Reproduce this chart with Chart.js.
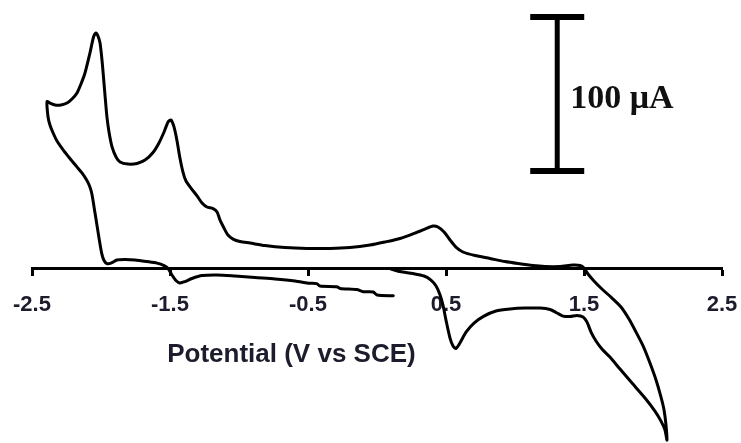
<!DOCTYPE html>
<html>
<head>
<meta charset="utf-8">
<script src="https://cdn.jsdelivr.net/npm/chart.js@4.4.0/dist/chart.umd.min.js"></script>
<style>
  body { margin: 0; background: #fff; }
  #wrap { width: 741px; height: 443px; }
</style>
</head>
<body>
<div id="wrap"><canvas id="chart"></canvas></div>
<script>
// potential (V vs SCE) and current (uA), one continuous trace
const potential = [
  0.101, 0.167, 0.261, 0.341, 0.391, 0.428, 0.457, 0.478, 0.500, 0.529, 0.551, 0.572, 0.601, 0.645, 0.703,
  0.775, 0.862, 0.964, 1.072, 1.181, 1.254, 1.304, 1.348, 1.399, 1.449, 1.493, 1.522, 1.551, 1.587, 1.630,
  1.688, 1.761, 1.848, 1.942, 2.014, 2.058, 2.087, 2.101,
  2.094, 2.080, 2.058, 2.022, 1.978, 1.928, 1.877, 1.826, 1.768, 1.703, 1.630, 1.572, 1.529, 1.500, 1.471,
  1.420, 1.326, 1.217, 1.130, 1.022, 0.928, 0.819, 0.710, 0.623, 0.572, 0.529, 0.486, 0.442, 0.406, 0.348,
  0.275, 0.167, 0.058, -0.051, -0.196, -0.341, -0.507, -0.667, -0.812, -0.920, -0.993, -1.043, -1.080, -1.109,
  -1.138, -1.159, -1.188, -1.232, -1.268, -1.304, -1.348, -1.384, -1.406, -1.428, -1.449, -1.471, -1.493, -1.514,
  -1.543, -1.580, -1.623, -1.681, -1.739, -1.804, -1.862, -1.891, -1.920, -1.942, -1.957, -1.971, -1.982, -1.993,
  -2.007, -2.022, -2.036, -2.054, -2.080, -2.116, -2.145, -2.174, -2.210, -2.246, -2.290, -2.333, -2.370, -2.391,
  -2.384, -2.370, -2.346, -2.319, -2.273, -2.225, -2.176, -2.138, -2.104, -2.083, -2.067, -2.043, -2.020, -1.995,
  -1.978, -1.957, -1.928, -1.884, -1.826, -1.754, -1.667, -1.594, -1.543, -1.514, -1.486, -1.457, -1.428, -1.391,
  -1.341, -1.268, -1.159, -1.029, -0.884, -0.739, -0.594, -0.507, -0.486, -0.437, -0.413, -0.292, -0.268, -0.147,
  -0.099, -0.027, 0.000, 0.118
];
const current = [
  -0.6, -2.3, -3.6, -5.2, -7.8, -11.7, -17.5, -24.0, -33.8, -45.5, -50.6, -52.3, -48.7, -41.6, -35.7,
  -31.2, -27.9, -26.6, -26.0, -26.0, -26.9, -29.2, -31.2, -31.5, -30.8, -31.8, -35.1, -41.6, -47.4, -52.6,
  -57.8, -65.6, -74.7, -84.4, -92.9, -99.4, -105.2, -111.7,
  -101.9, -92.2, -83.8, -72.7, -61.7, -50.6, -41.6, -33.1, -25.3, -19.5, -13.6, -8.4, -3.9, 0, 1.6,
  1.9, 1.0, 1.0, 1.6, 2.9, 4.2, 6.2, 8.1, 10.4, 13.6, 18.2, 23.4, 26.6, 27.3, 25.3,
  22.7, 19.2, 16.9, 14.9, 13.3, 12.7, 12.7, 13.3, 14.6, 16.2, 17.2, 18.8, 21.4, 26.0,
  31.2, 36.4, 38.6, 39.6, 42.2, 46.8, 51.9, 56.5, 62.3, 71.4, 82.5, 91.6, 96.1, 94.8,
  88.3, 81.2, 75.0, 70.1, 67.9, 67.5, 68.8, 72.1, 78.6, 88.3, 98.1, 112.3, 124.0, 135.1,
  146.1, 150.6, 152.6, 150.0, 139.6, 126.6, 119.5, 113.6, 109.7, 107.1, 105.8, 105.8, 107.1, 108.1,
  98.2, 92.9, 87.5, 82.5, 76.6, 71.1, 65.8, 61.7, 57.1, 53.2, 48.5, 35.5, 22.5, 9.5,
  4.9, 2.9, 3.2, 5.2, 5.5, 5.2, 4.2, 3.2, 1.6, -0.3, -4.5, -8.1, -9.7, -8.8,
  -6.8, -4.9, -4.5, -5.2, -6.2, -7.1, -8.4, -9.7, -9.9, -10.1, -11.7, -12.1, -13.3, -14.0,
  -15.4, -15.6, -17.5, -18.0
];

const tickValues = [-2.5, -1.5, -0.5, 0.5, 1.5, 2.5];
const tickLabels = ['-2.5', '-1.5', '-0.5', '0.5', '1.5', '2.5'];
const axisTitle = 'Potential (V vs SCE)';
const axisTitleAt = -0.62;

// scale bar instead of a y axis
const scaleBarSize = 100;
const scaleBarBase = 63;
const scaleBarPotential = 1.306;
const scaleBarLabel = '100 μA';

const textColor = '#1c1c2c';

// axis title and scale bar, placed with the chart scales
const extras = {
  id: 'extras',
  afterDraw(chart) {
    const {ctx, scales: {x, y}} = chart;
    ctx.save();

    ctx.fillStyle = textColor;
    ctx.font = 'bold 26px "Liberation Sans", Arial, sans-serif';
    ctx.textAlign = 'center';
    ctx.textBaseline = 'alphabetic';
    ctx.fillText(axisTitle, x.getPixelForValue(axisTitleAt), y.getPixelForValue(0) + 94);

    const bx = x.getPixelForValue(scaleBarPotential);
    const yLow = y.getPixelForValue(scaleBarBase);
    const yHigh = y.getPixelForValue(scaleBarBase + scaleBarSize);
    ctx.strokeStyle = '#000';
    ctx.lineWidth = 5;
    ctx.beginPath();
    ctx.moveTo(bx, yHigh);
    ctx.lineTo(bx, yLow);
    ctx.stroke();
    ctx.lineWidth = 6;
    ctx.beginPath();
    ctx.moveTo(bx - 27, yHigh);
    ctx.lineTo(bx + 27, yHigh);
    ctx.moveTo(bx - 27, yLow);
    ctx.lineTo(bx + 27, yLow);
    ctx.stroke();

    ctx.fillStyle = '#111';
    ctx.font = 'bold 34px "Liberation Serif", "Times New Roman", serif';
    ctx.textAlign = 'left';
    ctx.fillText(scaleBarLabel, bx + 13, (yLow + yHigh) / 2 + 14);
    ctx.restore();
  }
};

const chart = document.querySelector('#chart').getContext('2d');

new Chart(chart, {
  type: 'scatter',
  data: {
    datasets: [
      {
        data: potential.map((v, i) => ({x: v, y: current[i]})),
        showLine: true,
        borderColor: '#000',
        borderWidth: 3,
        borderJoinStyle: 'round',
        borderCapStyle: 'round',
        pointRadius: 0,
        tension: 0.25
      }
    ]
  },
  options: {
    responsive: true,
    maintainAspectRatio: false,
    animation: false,
    layout: { padding: { left: 32, right: 19, top: 0, bottom: 0 } },
    plugins: { legend: { display: false }, tooltip: { enabled: false } },
    scales: {
      x: {
        type: 'linear',
        min: -2.5,
        max: 2.5,
        position: { y: 0 },
        afterFit: (scale) => {
          scale.height = 0;
          scale.paddingLeft = 0;
          scale.paddingRight = 0;
        },
        afterBuildTicks: (scale) => { scale.ticks = tickValues.map(v => ({value: v})); },
        border: { display: true, color: '#000', width: 3 },
        grid: { display: true, drawOnChartArea: false, drawTicks: true, tickLength: 6, tickWidth: 3, tickColor: '#000' },
        ticks: {
          padding: 18,
          color: textColor,
          font: { family: '"Liberation Sans", Arial, sans-serif', size: 22, weight: 'bold' },
          maxRotation: 0,
          callback: (value, index) => tickLabels[index]
        }
      },
      y: {
        type: 'linear',
        display: false,
        min: -113.6,
        max: 174.0
      }
    }
  },
  plugins: [extras]
});
</script>
</body>
</html>
